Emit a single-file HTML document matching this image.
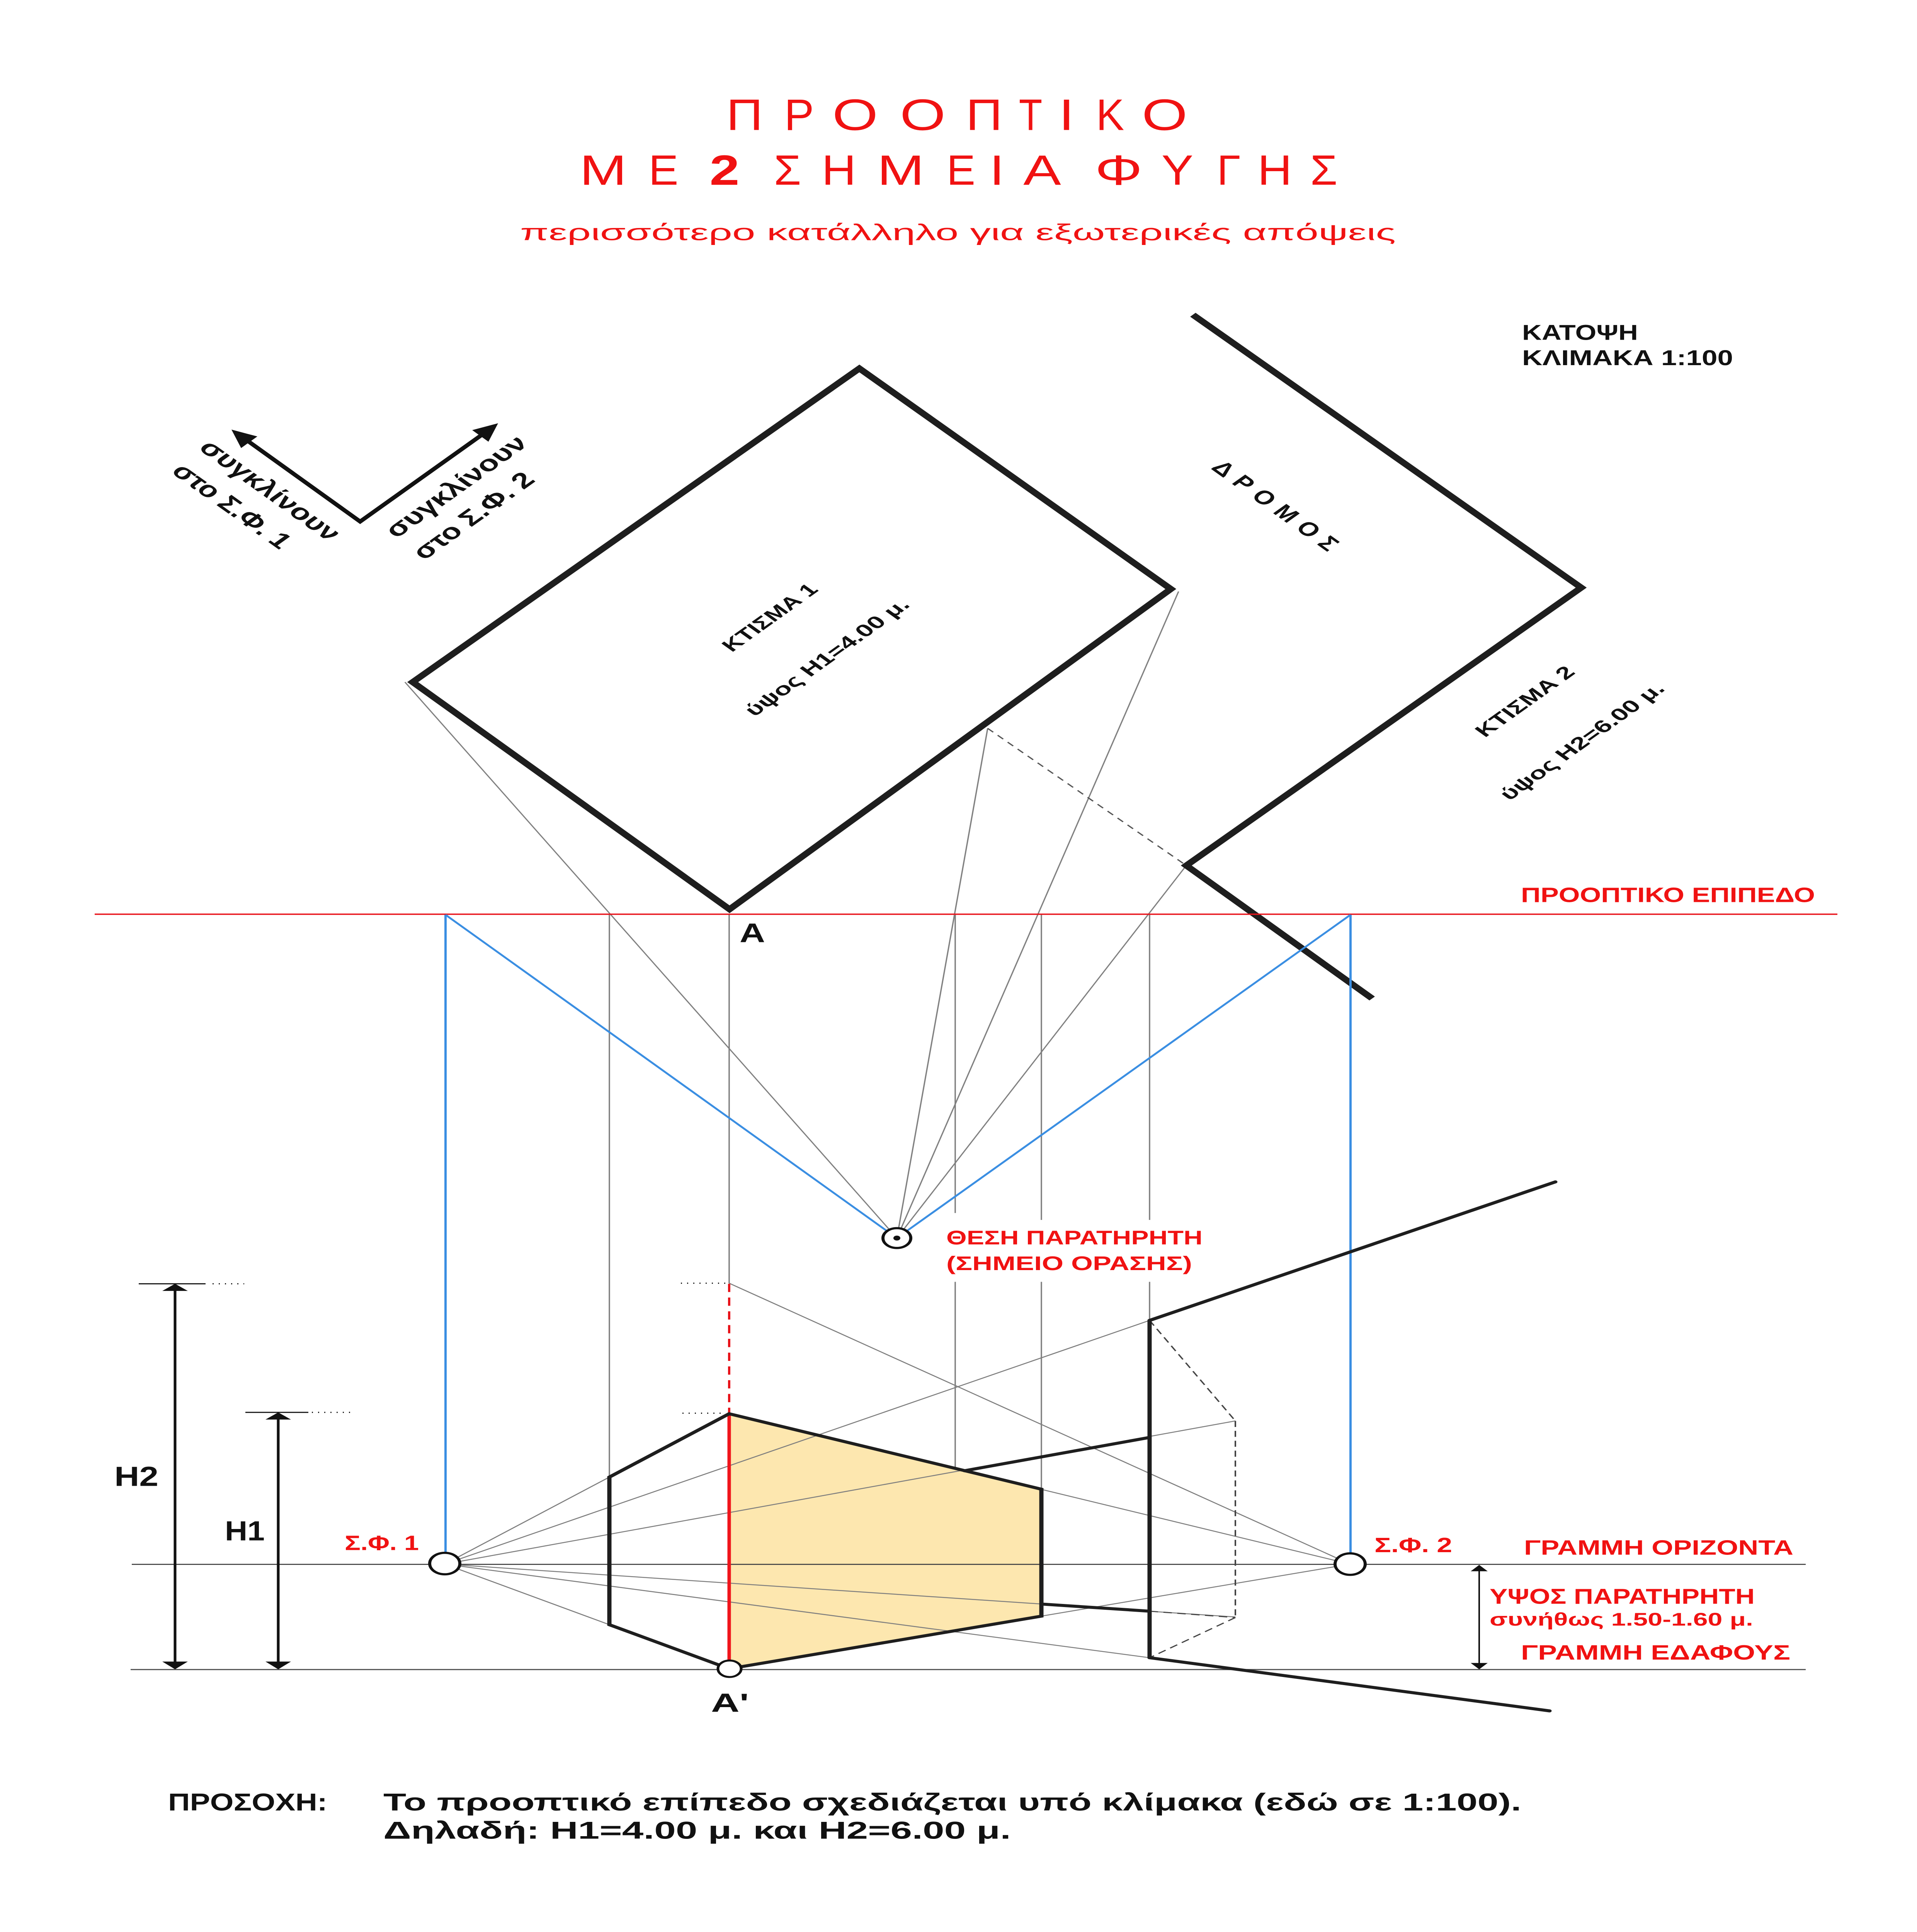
<!DOCTYPE html>
<html><head><meta charset="utf-8"><title>Προοπτικό με 2 σημεία φυγής</title>
<style>html,body{margin:0;padding:0;background:#fff;width:100%;height:100%;overflow:hidden}svg{display:block;width:100vw;height:100vh}</style>
</head><body>
<svg xmlns="http://www.w3.org/2000/svg" viewBox="0 0 4961 7016" preserveAspectRatio="none" font-family="'Liberation Sans', sans-serif">
<rect width="4961" height="7016" fill="#fff"/>

<!-- TITLE -->
<g fill="#f01212" font-size="160">
<text transform="translate(1927,472) scale(0.82,1)" text-anchor="middle">Π</text>
<text transform="translate(2068,472) scale(0.72,1)" text-anchor="middle">Ρ</text>
<text transform="translate(2213,472) scale(0.95,1)" text-anchor="middle">Ο</text>
<text transform="translate(2388,472) scale(0.95,1)" text-anchor="middle">Ο</text>
<text transform="translate(2547,472) scale(0.82,1)" text-anchor="middle">Π</text>
<text transform="translate(2667,472) scale(0.62,1)" text-anchor="middle">Τ</text>
<text transform="translate(2760,472) scale(0.9,1)" text-anchor="middle">Ι</text>
<text transform="translate(2873,472) scale(0.68,1)" text-anchor="middle">Κ</text>
<text transform="translate(3014,472) scale(0.95,1)" text-anchor="middle">Ο</text>
</g>
<g fill="#f01212" font-size="154">
<text transform="translate(1561,671) scale(0.95,1)" text-anchor="middle">Μ</text>
<text transform="translate(1717,671) scale(0.75,1)" text-anchor="middle">Ε</text>
<text transform="translate(1875,671) scale(0.9,1)" text-anchor="middle" font-weight="bold">2</text>
<text transform="translate(2038,671) scale(0.74,1)" text-anchor="middle">Σ</text>
<text transform="translate(2171,671) scale(0.8,1)" text-anchor="middle">Η</text>
<text transform="translate(2331,671) scale(0.95,1)" text-anchor="middle">Μ</text>
<text transform="translate(2487,671) scale(0.72,1)" text-anchor="middle">Ε</text>
<text transform="translate(2580,671) scale(0.9,1)" text-anchor="middle">Ι</text>
<text transform="translate(2697,671) scale(0.95,1)" text-anchor="middle">Α</text>
<text transform="translate(2895,671) scale(1.0,1)" text-anchor="middle">Φ</text>
<text transform="translate(3047,671) scale(0.8,1)" text-anchor="middle">Υ</text>
<text transform="translate(3180,671) scale(0.72,1)" text-anchor="middle">Γ</text>
<text transform="translate(3299,671) scale(0.8,1)" text-anchor="middle">Η</text>
<text transform="translate(3426,671) scale(0.74,1)" text-anchor="middle">Σ</text>
</g>
<text x="1346" y="872" font-size="83" fill="#f01212" textLength="2266" lengthAdjust="spacingAndGlyphs">περισσότερο κατάλληλο για εξωτερικές απόψεις</text>

<!-- DIRECTION ARROWS -->
<g stroke="#111" stroke-width="13" fill="none" stroke-linejoin="miter">
<polyline points="640,1600 932,1894 1250,1576"/>
</g>
<polygon points="599,1560 666,1585 624,1627" fill="#111"/>
<polygon points="1289,1537 1264,1604 1222,1562" fill="#111"/>
<g font-size="78" font-weight="bold" fill="#111" text-anchor="middle">
<text transform="translate(681,1799) rotate(45)" textLength="480" lengthAdjust="spacingAndGlyphs">συγκλίνουν</text>
<text transform="translate(582,1856) rotate(45)" textLength="400" lengthAdjust="spacingAndGlyphs">στο Σ.Φ. 1</text>
<text transform="translate(1198,1785) rotate(-45)" textLength="485" lengthAdjust="spacingAndGlyphs">συγκλίνουν</text>
<text transform="translate(1243,1891) rotate(-45)" textLength="410" lengthAdjust="spacingAndGlyphs">στο Σ.Φ. 2</text>
</g>

<!-- PLAN construction lines (gray) -->
<g stroke="#808080" stroke-width="3.5" fill="none">
<line x1="1048" y1="2477" x2="2321" y2="4496"/>
<line x1="3050" y1="2148" x2="2321" y2="4496"/>
<line x1="2556" y1="2645" x2="2321" y2="4496"/>
<line x1="3070" y1="3143" x2="2321" y2="4496"/>
</g>
<line x1="2556" y1="2645" x2="3070" y2="3143" stroke="#555" stroke-width="4" stroke-dasharray="20 16"/>

<!-- verticals from picture plane -->
<g stroke="#7e7e7e" stroke-width="3.5">
<line x1="1577" y1="3320" x2="1577" y2="5364"/>
<line x1="1887" y1="3320" x2="1887" y2="4660"/>
<line x1="2472" y1="3320" x2="2472" y2="4405"/>
<line x1="2472" y1="4655" x2="2472" y2="5920"/>
<line x1="2695" y1="3320" x2="2695" y2="4430"/>
<line x1="2695" y1="4655" x2="2695" y2="5408"/>
<line x1="2975" y1="3320" x2="2975" y2="4430"/>
<line x1="2975" y1="4655" x2="2975" y2="4795"/>
</g>

<!-- Building 1 plan -->
<polygon points="2224,1338 3030,2139 1888,3302 1068,2477" fill="none" stroke="#1e1e1e" stroke-width="20" stroke-linejoin="miter"/>
<!-- Building 2 plan -->
<polyline points="3087,1143 4092,2134 3070,3143 3551,3626" fill="none" stroke="#1e1e1e" stroke-width="20" stroke-linejoin="miter"/>

<!-- plan texts -->
<g font-weight="bold" fill="#111" text-anchor="middle">
<text transform="translate(2007,2257) rotate(-45)" font-size="62" textLength="320" lengthAdjust="spacingAndGlyphs">ΚΤΙΣΜΑ 1</text>
<text transform="translate(2155,2402) rotate(-45)" font-size="62" textLength="573" lengthAdjust="spacingAndGlyphs">ύψος Η1=4.00 μ.</text>
<text transform="translate(3961,2562) rotate(-45)" font-size="62" textLength="334" lengthAdjust="spacingAndGlyphs">ΚΤΙΣΜΑ 2</text>
<text transform="translate(4109,2707) rotate(-45)" font-size="62" textLength="573" lengthAdjust="spacingAndGlyphs">ύψος Η2=6.00 μ.</text>
<text transform="translate(3284,1853) rotate(45)" font-size="70" textLength="430" lengthAdjust="spacing">ΔΡΟΜΟΣ</text>
</g>
<g font-weight="bold" fill="#111" font-size="78">
<text x="3939" y="1234" textLength="300" lengthAdjust="spacingAndGlyphs">ΚΑΤΟΨΗ</text>
<text x="3939" y="1326" textLength="546" lengthAdjust="spacingAndGlyphs">ΚΛΙΜΑΚΑ 1:100</text>
</g>

<!-- Picture plane (red) -->
<line x1="245" y1="3320" x2="4755" y2="3320" stroke="#e8141b" stroke-width="5"/>
<text x="3936" y="3276" font-size="75" font-weight="bold" fill="#f01212" textLength="761" lengthAdjust="spacingAndGlyphs">ΠΡΟΟΠΤΙΚΟ ΕΠΙΠΕΔΟ</text>
<text x="1914" y="3422" font-size="98" font-weight="bold" fill="#111" textLength="66" lengthAdjust="spacingAndGlyphs">Α</text>

<!-- blue lines -->
<g stroke="#3a8ee2" stroke-width="6" fill="none">
<line x1="1153" y1="3322" x2="2293" y2="4468"/>
<line x1="3495" y1="3322" x2="2349" y2="4468"/>
<line x1="1153" y1="3322" x2="1153" y2="5637"/>
<line x1="3495" y1="3322" x2="3495" y2="5639"/>
</g>

<!-- observer -->
<circle cx="2321" cy="4496" r="36" fill="#fff" stroke="#111" stroke-width="8"/>
<circle cx="2321" cy="4496" r="9" fill="#111"/>
<g font-size="72" font-weight="bold" fill="#f01212">
<text x="2449" y="4519" textLength="663" lengthAdjust="spacingAndGlyphs">ΘΕΣΗ ΠΑΡΑΤΗΡΗΤΗ</text>
<text x="2449" y="4612" textLength="636" lengthAdjust="spacingAndGlyphs">(ΣΗΜΕΙΟ ΟΡΑΣΗΣ)</text>
</g>

<!-- PERSPECTIVE -->
<polygon points="1887,5134 2695,5408 2695,5869 1887,6060" fill="#fde7af"/>

<!-- horizon & ground -->
<line x1="341" y1="5681" x2="4673" y2="5681" stroke="#4a4a4a" stroke-width="4"/>
<line x1="338" y1="6063" x2="4673" y2="6063" stroke="#4a4a4a" stroke-width="4"/>

<!-- construction lines to VPs -->
<g stroke="#7e7e7e" stroke-width="3.5" fill="none">
<line x1="1151" y1="5680" x2="1577" y2="5364"/>
<line x1="1151" y1="5680" x2="2975" y2="4795"/>
<line x1="1151" y1="5680" x2="3197" y2="5160"/>
<line x1="1151" y1="5680" x2="3197" y2="5872"/>
<line x1="1151" y1="5680" x2="2975" y2="6020"/>
<line x1="1151" y1="5680" x2="1577" y2="5900"/>
<line x1="3494" y1="5680" x2="1887" y2="4660"/>
<line x1="3494" y1="5680" x2="1887" y2="5134"/>
<line x1="3494" y1="5680" x2="1887" y2="6060"/>
</g>

<!-- dashed hidden lines -->
<g stroke="#444" stroke-width="4" stroke-dasharray="22 14" fill="none">
<line x1="2975" y1="4795" x2="3197" y2="5160"/>
<line x1="3197" y1="5160" x2="3197" y2="5874"/>
<line x1="3197" y1="5874" x2="2975" y2="6020"/>
<line x1="2975" y1="5851" x2="3197" y2="5874"/>
</g>

<!-- red measuring line -->
<line x1="1887" y1="4662" x2="1887" y2="5134" stroke="#e8141b" stroke-width="6" stroke-dasharray="30 20"/>
<line x1="1887" y1="5134" x2="1887" y2="6030" stroke="#f0141b" stroke-width="9"/>

<!-- dotted height markers -->
<g stroke="#111" stroke-width="4" stroke-dasharray="3 13" fill="none">
<line x1="1762" y1="4660" x2="1877" y2="4660"/>
<line x1="1766" y1="5132" x2="1877" y2="5132"/>
<line x1="550" y1="4662" x2="632" y2="4662"/>
<line x1="807" y1="5129" x2="912" y2="5129"/>
</g>

<!-- Building 1 perspective edges -->
<g stroke="#1e1e1e" stroke-width="11" fill="none" stroke-linejoin="miter" stroke-linecap="round">
<polyline points="1887,5134 1577,5364 1577,5900 1887,6060"/>
<polyline points="1887,5134 2695,5408 2695,5869 1887,6060"/>
<!-- Building 2 -->
<line x1="2975" y1="4795" x2="2975" y2="6020"/>
<line x1="2975" y1="4795" x2="4025" y2="4292"/>
<line x1="2975" y1="6020" x2="4010" y2="6213"/>
<line x1="2496" y1="5341" x2="2975" y2="5220"/>
<line x1="2695" y1="5825" x2="2975" y2="5851"/>
</g>

<!-- vanishing points & A' -->
<circle cx="1151" cy="5678" r="39" fill="#fff" stroke="#111" stroke-width="8"/>
<circle cx="3494" cy="5680" r="39" fill="#fff" stroke="#111" stroke-width="8"/>
<circle cx="1888" cy="6060" r="30" fill="#fff" stroke="#111" stroke-width="7"/>

<!-- dimension H2 / H1 -->
<g stroke="#111" fill="none">
<line x1="359" y1="4662" x2="532" y2="4662" stroke-width="4"/>
<line x1="453" y1="4680" x2="453" y2="6040" stroke-width="7"/>
<line x1="635" y1="5129" x2="798" y2="5129" stroke-width="4"/>
<line x1="720" y1="5147" x2="720" y2="6040" stroke-width="7"/>
<line x1="3828" y1="5700" x2="3828" y2="6045" stroke-width="4"/>
</g>
<g fill="#111">
<polygon points="453,4662 420,4688 486,4688"/>
<polygon points="453,6062 420,6034 486,6034"/>
<polygon points="720,5129 687,5155 753,5155"/>
<polygon points="720,6062 687,6034 753,6034"/>
<polygon points="3828,5683 3806,5706 3850,5706"/>
<polygon points="3828,6062 3806,6039 3850,6039"/>
</g>

<!-- perspective labels -->
<g font-weight="bold" fill="#111">
<text x="296" y="5396" font-size="100" textLength="114" lengthAdjust="spacingAndGlyphs">Η2</text>
<text x="582" y="5594" font-size="100" textLength="103" lengthAdjust="spacingAndGlyphs">Η1</text>
<text x="1840" y="6216" font-size="95" textLength="98" lengthAdjust="spacingAndGlyphs">Α'</text>
</g>
<g font-weight="bold" fill="#f01212">
<text x="892" y="5629" font-size="75" textLength="192" lengthAdjust="spacingAndGlyphs">Σ.Φ. 1</text>
<text x="3557" y="5637" font-size="75" textLength="201" lengthAdjust="spacingAndGlyphs">Σ.Φ. 2</text>
<text x="3944" y="5646" font-size="76" textLength="697" lengthAdjust="spacingAndGlyphs">ΓΡΑΜΜΗ ΟΡΙΖΟΝΤΑ</text>
<text x="3855" y="5824" font-size="78" textLength="686" lengthAdjust="spacingAndGlyphs">ΥΨΟΣ ΠΑΡΑΤΗΡΗΤΗ</text>
<text x="3855" y="5903" font-size="66" textLength="682" lengthAdjust="spacingAndGlyphs">συνήθως 1.50-1.60 μ.</text>
<text x="3936" y="6027" font-size="76" textLength="697" lengthAdjust="spacingAndGlyphs">ΓΡΑΜΜΗ ΕΔΑΦΟΥΣ</text>
</g>

<!-- bottom note -->
<g font-weight="bold" fill="#111" font-size="88">
<text x="435" y="6575" textLength="412" lengthAdjust="spacingAndGlyphs">ΠΡΟΣΟΧΗ:</text>
<text x="992" y="6575" textLength="2945" lengthAdjust="spacingAndGlyphs">Το προοπτικό επίπεδο σχεδιάζεται υπό κλίμακα (εδώ σε 1:100).</text>
<text x="992" y="6677" textLength="1624" lengthAdjust="spacingAndGlyphs">Δηλαδή: Η1=4.00 μ. και Η2=6.00 μ.</text>
</g>
</svg>
</body></html>
